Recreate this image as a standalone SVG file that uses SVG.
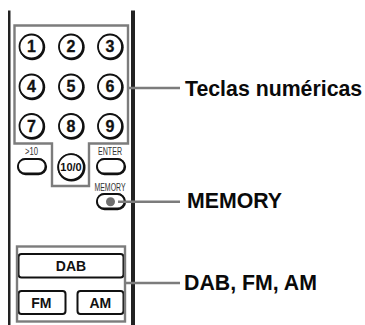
<svg xmlns="http://www.w3.org/2000/svg" width="365" height="325" viewBox="0 0 365 325">
<style>
.btn{fill:#fff;stroke:#111;stroke-width:1.800}
.sh{fill:#111}
.n{font-family:"Liberation Sans",Arial,sans-serif;font-weight:bold;fill:#111;text-anchor:middle}
.d{font-size:16px;stroke:#111;stroke-width:.3}
.s{font-family:"Liberation Sans",Arial,sans-serif;fill:#333;font-size:10px;text-anchor:middle}
.l{font-family:"Liberation Sans",Arial,sans-serif;font-weight:bold;fill:#0a0a0a;font-size:21.3px}
.g{fill:none;stroke:#7c7c7c;stroke-width:2.400}
</style>
<defs>
<g id="key"><circle class="sh" cx="0.700" cy="0.800" r="13"/><circle class="btn" r="12"/></g>
<g id="pill"><rect class="sh" x="0.100" y="0.300" width="30" height="17" rx="8.500"/><rect class="btn" x="1" y="1" width="27.500" height="14.500" rx="7.200"/></g>
</defs>
<rect width="365" height="325" fill="#fff"/>
<g id="remote">
<rect x="8" y="10.500" width="2.500" height="314.500" fill="#222"/>
<rect x="131" y="10.500" width="4" height="314.500" fill="#222"/>
</g>
<g id="k1"><use href="#key" x="31.500" y="46.500"/><text class="n d" x="31.500" y="52">1</text></g>
<g id="k2"><use href="#key" x="71" y="46.500"/><text class="n d" x="71" y="52">2</text></g>
<g id="k3"><use href="#key" x="110" y="46.500"/><text class="n d" x="110" y="52">3</text></g>
<g id="k4"><use href="#key" x="31.500" y="86.500"/><text class="n d" x="31.500" y="92">4</text></g>
<g id="k5"><use href="#key" x="71" y="86.500"/><text class="n d" x="71" y="92">5</text></g>
<g id="k6"><use href="#key" x="110" y="86.500"/><text class="n d" x="110" y="92">6</text></g>
<g id="k7"><use href="#key" x="31.500" y="126"/><text class="n d" x="31.500" y="132">7</text></g>
<g id="k8"><use href="#key" x="71" y="126"/><text class="n d" x="71" y="132">8</text></g>
<g id="k9"><use href="#key" x="110" y="126"/><text class="n d" x="110" y="132">9</text></g>
<g id="k10"><circle class="sh" cx="71.500" cy="167.500" r="14"/><circle class="btn" cx="71" cy="167" r="12.800"/><text class="n" x="71" y="171" font-size="11">10/0</text></g>
<g id="gt10"><text class="s" x="31.500" y="155" textLength="13" lengthAdjust="spacingAndGlyphs">&gt;10</text><use href="#pill" x="17" y="158"/></g>
<g id="enter"><text class="s" x="110" y="155" textLength="24" lengthAdjust="spacingAndGlyphs">ENTER</text><use href="#pill" x="96" y="158"/></g>
<g id="memory"><text class="s" x="110" y="190.500" textLength="31" lengthAdjust="spacingAndGlyphs">MEMORY</text><use href="#pill" x="96" y="193"/><circle cx="110.500" cy="201.700" r="4.500" fill="#6f6f6f"/></g>
<g id="dab"><rect class="btn" x="18.500" y="254" width="105" height="23.500" rx="3" style="stroke-width:2"/><text class="n" x="71" y="271" font-size="14">DAB</text></g>
<g id="fm"><rect class="btn" x="18.500" y="291" width="47" height="23" rx="3" style="stroke-width:2"/><text class="n" x="41.300" y="308" font-size="14">FM</text></g>
<g id="am"><rect class="btn" x="77.500" y="291" width="46" height="23" rx="3" style="stroke-width:2"/><text class="n" x="100.300" y="308" font-size="14">AM</text></g>
<g id="connectors">
<path class="g" d="M14.500 25.500H128V143.500H89V186H52V143.500H14.500Z"/>
<rect class="g" x="17" y="246.500" width="108" height="75"/>
<path class="g" d="M128 88H180M118 201.700H180M125 283H180"/>
</g>
<g id="labels">
<text class="l" x="185" y="95.500">Teclas numéricas</text>
<text class="l" x="187" y="208">MEMORY</text>
<text class="l" x="184" y="290">DAB, FM, AM</text>
</g>
</svg>
